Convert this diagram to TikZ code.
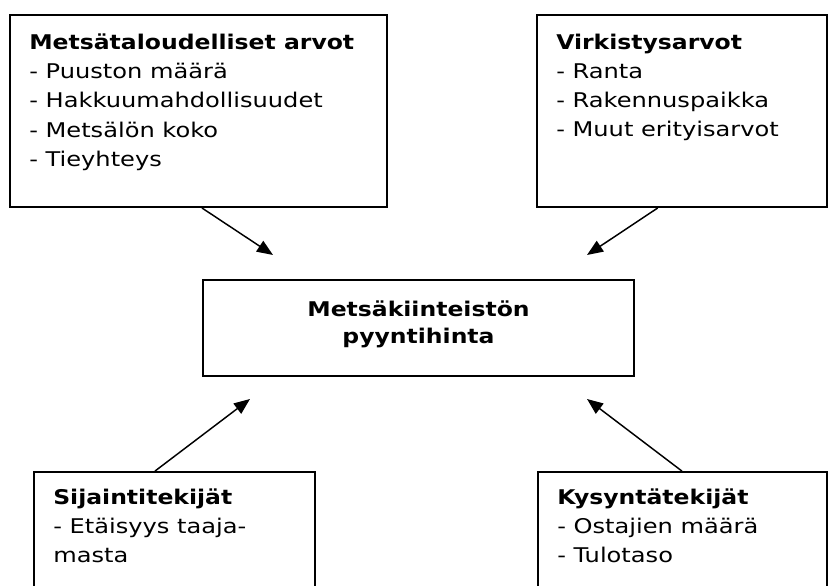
\documentclass[tikz,border=0pt]{standalone}
\usepackage{fontspec}
\setmainfont{DejaVu Sans}[FakeStretch=1.19, BoldFont={DejaVu Sans Bold}, BoldFeatures={FakeStretch=1.16}]
\usetikzlibrary{arrows.meta,fit,calc}
\begin{document}
\begin{tikzpicture}[x=0.75pt,y=-0.75pt,
  box/.style={draw, line width=1.4pt, inner sep=0pt},
  txt/.style={anchor=north west, inner sep=0pt, align=left,
    font=\fontsize{15.2pt}{21.9pt}\selectfont},
  ctxt/.style={anchor=north, inner sep=0pt, align=center,
    font=\fontsize{15.2pt}{20.25pt}\selectfont\bfseries},
  arr/.style={line width=1.1pt, -{Triangle[length=12pt,width=9.5pt]}}]
\useasboundingbox (0,0) rectangle (829,586);
\clip (0,0) rectangle (829,586);
% boxes
\coordinate (b1a) at (10,15);  \coordinate (b1b) at (387,207);
\coordinate (b2a) at (537,15); \coordinate (b2b) at (827,207);
\coordinate (bca) at (203,280); \coordinate (bcb) at (634,376);
\coordinate (b3a) at (34,472); \coordinate (b3b) at (315,620);
\coordinate (b4a) at (538,472); \coordinate (b4b) at (827,620);
\node[box, fit=(b1a)(b1b)] (b1) {};
\node[box, fit=(b2a)(b2b)] (b2) {};
\node[box, fit=(bca)(bcb)] (bc) {};
\node[box, fit=(b3a)(b3b)] (b3) {};
\node[box, fit=(b4a)(b4b)] (b4) {};
% texts
\node[txt] (t1) at (29,33.5) {\textbf{Metsätaloudelliset arvot}\\- Puuston määrä\\- Hakkuumahdollisuudet\\- Metsälön koko\\- Tieyhteys};
\node[txt] (t2) at (556,33.5) {\textbf{Virkistysarvot}\\- Ranta\\- Rakennuspaikka\\- Muut erityisarvot};
\node[ctxt] (tc) at (418.5,300.3) {Metsäkiinteistön\\pyyntihinta};
\node[txt] (t3) at (53,488.6) {\textbf{Sijaintitekijät}\\- Etäisyys taaja-\\masta};
\node[txt] (t4) at (557,488.6) {\textbf{Kysyntätekijät}\\- Ostajien määrä\\- Tulotaso};
% arrow tips
\coordinate (e1) at (273,255);
\coordinate (e2) at (587,255);
\coordinate (e3) at (250,399);
\coordinate (e4) at (587,399);
\draw[arr] ($(b1.south west)!0.509!(b1.south east)$) -- (e1);
\draw[arr] ($(b2.south west)!0.417!(b2.south east)$) -- (e2);
\draw[arr] ($(b3.north west)!0.431!(b3.north east)$) -- (e3);
\draw[arr] ($(b4.north west)!0.498!(b4.north east)$) -- (e4);
\end{tikzpicture}
\end{document}
